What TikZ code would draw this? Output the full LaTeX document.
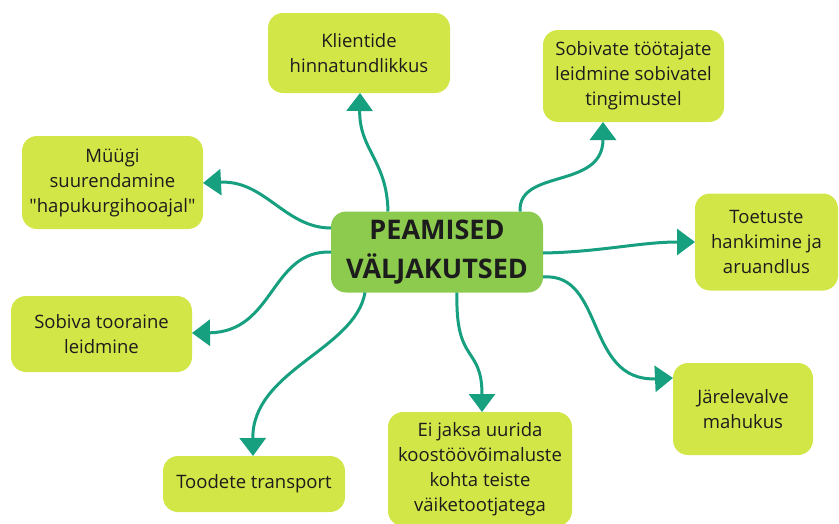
\documentclass[tikz,border=0pt]{standalone}
\usepackage{fontspec}
\setmainfont{Open Sans}[Ligatures=TeXOff]
\usetikzlibrary{arrows.meta}
\definecolor{boxfill}{RGB}{211,230,72}
\definecolor{centerfill}{RGB}{140,203,78}
\definecolor{arrowcol}{RGB}{22,160,127}
\definecolor{txt}{RGB}{28,28,28}
\tikzset{
  outer/.style={fill=boxfill, rounded corners=15pt, align=center, text=txt,
    font=\fontsize{18.5}{25}\selectfont, inner sep=0pt},
  central/.style={fill=centerfill, rounded corners=15pt, align=center, text=txt,
    font=\fontsize{27}{39}\selectfont\bfseries, inner sep=0pt},
  conn/.style={draw=arrowcol, line width=3pt, -{Triangle[width=26pt,length=18pt]}}
}
\begin{document}
\begin{tikzpicture}[x=1pt,y=-1pt]
\useasboundingbox (0,0) rectangle (839,523);
\node[central, minimum width=212pt, minimum height=81pt] (c) at (437,252) {PEAMISED\\VÄLJAKUTSED};
\node[outer, minimum width=182pt, minimum height=80pt] (klient) at (359,53) {Klientide\\hinnatundlikkus};
\node[outer, minimum width=181pt, minimum height=92pt] (tootajad) at (633.5,76) {Sobivate töötajate\\leidmine sobivatel\\tingimustel};
\node[outer, minimum width=181pt, minimum height=93pt] (myyk) at (112.5,182.5) {Müügi\\suurendamine\\"hapukurgihooajal"};
\node[outer, minimum width=143pt, minimum height=97pt] (toetused) at (766.5,242) {Toetuste\\hankimine ja\\aruandlus};
\node[outer, minimum width=181pt, minimum height=76pt] (tooraine) at (101.5,334) {Sobiva tooraine\\leidmine};
\node[outer, minimum width=182pt, minimum height=56pt] (transport) at (254,484) {Toodete transport};
\node[outer, minimum width=184pt, minimum height=114pt] (eijaksa) at (480,469) {Ei jaksa uurida\\koostöövõimaluste\\kohta teiste\\väiketootjatega};
\node[outer, minimum width=140pt, minimum height=92pt] (jarel) at (743,409) {Järelevalve\\mahukus};
% connector end points
\coordinate (s1) at (388,211.5); \coordinate (e1) at (360,93);
\coordinate (s2) at (520,211.5); \coordinate (e2) at (603,122);
\coordinate (s3) at (331,228);   \coordinate (e3) at (203,183);
\coordinate (s4) at (331,252);   \coordinate (e4) at (192,333);
\coordinate (s5) at (365,292.5); \coordinate (e5) at (253,456);
\coordinate (s6) at (457,292.5); \coordinate (e6) at (482,412);
\coordinate (s7) at (543,253);   \coordinate (e7) at (695,242);
\coordinate (s8) at (543,277);   \coordinate (e8) at (673,378);
\draw[conn] (s1) .. controls (387,160) and (359,150) .. (e1);
\draw[conn] (s2) .. controls (518,168) and (603,190) .. (e2);
\draw[conn] (s3) .. controls (285,228) and (265,180) .. (e3);
\draw[conn] (s4) .. controls (270,250) and (275,332) .. (e4);
\draw[conn] (s5) .. controls (355,350) and (252,370) .. (e5);
\draw[conn] (s6) .. controls (455,365) and (482,345) .. (e6);
\draw[conn] (s7) .. controls (600,252) and (640,242) .. (e7);
\draw[conn] (s8) .. controls (605,272) and (585,382) .. (e8);
\end{tikzpicture}
\end{document}
